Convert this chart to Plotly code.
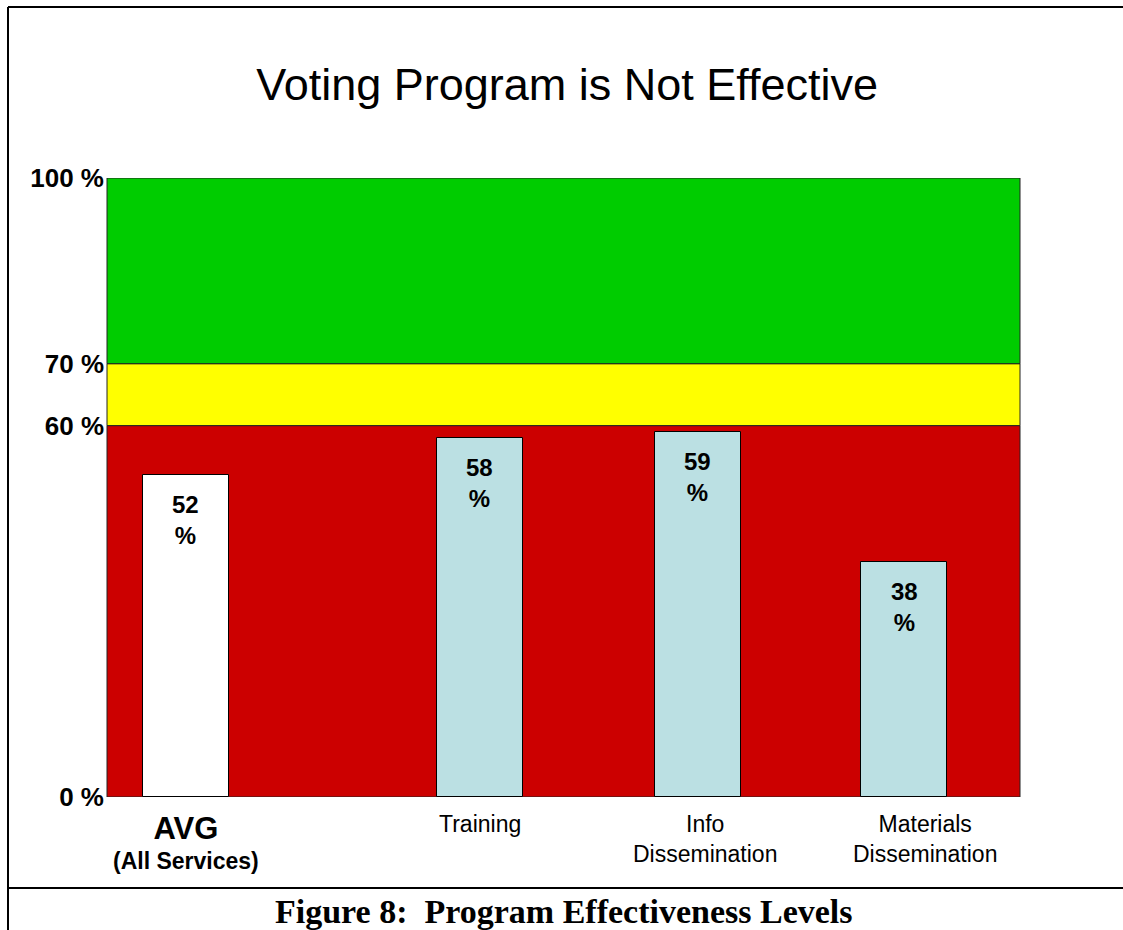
import plotly.graph_objects as go

# ---- data ----
categories = ["AVG", "Training", "Info Dissemination", "Materials Dissemination"]
cat_labels = [
    "<b><span style='font-size:31px'>AVG</span><br><span style='font-size:23px'>(All Services)</span></b>",
    "Training",
    "Info<br>Dissemination",
    "Materials<br>Dissemination",
]
values = [52, 58, 59, 38]
band_edges = [0, 60, 70, 100]          # red / yellow / green zones
band_names = ["Not Effective", "Marginal", "Effective"]
y_ticks = [0, 60, 70, 100]
y_tick_text = ["0 %", "60 %", "70 %", "100 %"]

# ---- layout helpers (positions / styles) ----
x_pos = [0.865, 4.085, 6.47, 8.73]
label_xshift = [0, 0, 7, 21]
bar_width = 0.94
band_colors = ["#CC0000", "#FFFF00", "#00CC00"]
bar_colors = ["#FFFFFF", "#BBE0E3", "#BBE0E3", "#BBE0E3"]
FONT = "Liberation Sans, Arial, sans-serif"

fig = go.Figure()

fig.add_trace(go.Bar(
    x=x_pos, y=values, width=bar_width,
    marker=dict(color=bar_colors, line=dict(color="#000000", width=1)),
    hoverinfo="skip", showlegend=False,
))

# zone bands
for i in range(len(band_names)):
    fig.add_shape(type="rect", xref="paper", yref="y",
                  x0=0, x1=1, y0=band_edges[i], y1=band_edges[i + 1],
                  fillcolor=band_colors[i], line=dict(color="#222222", width=1),
                  layer="below")

# value labels inside bars
for xp, v in zip(x_pos, values):
    fig.add_annotation(x=xp, y=v, xref="x", yref="y", text=f"<b>{v}<br>%</b>",
                       showarrow=False, yanchor="top", yshift=-14,
                       font=dict(family=FONT, size=24, color="#000000"))

# category labels
for xp, lab, xs in zip(x_pos, cat_labels, label_xshift):
    fig.add_annotation(x=xp, y=0, xref="x", yref="paper", text=lab,
                       showarrow=False, yanchor="top", yshift=-12, xshift=xs,
                       font=dict(family=FONT, size=23, color="#000000"))

# title
fig.update_layout(title=dict(text="Voting Program is Not Effective", x=0.505, xanchor="center",
                             y=1 - 84 / 930, yanchor="middle", yref="container",
                             font=dict(family=FONT, size=45, color="#000000")))

# caption
fig.add_annotation(x=0.5, y=(797 - 911) / 619, xref="paper", yref="paper",
                   text="<b>Figure 8:  Program Effectiveness Levels</b>",
                   showarrow=False, xanchor="center", yanchor="middle",
                   font=dict(family="Liberation Serif, Times New Roman, serif", size=34, color="#000000"))

# frame lines
left_px, top_px, sep_px = 8, 7, 888
x_left = (left_px - 107) / 913
x_right = (1123 - 107) / 913
y_top = (797 - top_px) / 619
y_sep = (797 - sep_px) / 619
y_bot = (797 - 930) / 619
fig.add_shape(type="line", xref="paper", yref="paper", x0=x_left, x1=x_right, y0=y_top, y1=y_top,
              line=dict(color="#000000", width=2))
fig.add_shape(type="line", xref="paper", yref="paper", x0=x_left, x1=x_left, y0=y_top, y1=y_bot,
              line=dict(color="#000000", width=2))
fig.add_shape(type="line", xref="paper", yref="paper", x0=x_left, x1=x_right, y0=y_sep, y1=y_sep,
              line=dict(color="#000000", width=2))

fig.update_layout(
    width=1123, height=930,
    margin=dict(l=107, r=103, t=178, b=133),
    paper_bgcolor="#FFFFFF", plot_bgcolor="rgba(0,0,0,0)",
    bargap=0,
    xaxis=dict(range=[0, 10], showgrid=False, zeroline=False, showticklabels=False,
               showline=False, fixedrange=True),
    yaxis=dict(range=[0, 100], tickvals=y_ticks,
               ticktext=[f"<b>{t}</b>" for t in y_tick_text], showgrid=False,
               zeroline=False, showline=False, ticks="", ticklabelstandoff=2,
               tickfont=dict(family=FONT, size=26, color="#000000"), fixedrange=True),
)

fig.write_html("out.html")
